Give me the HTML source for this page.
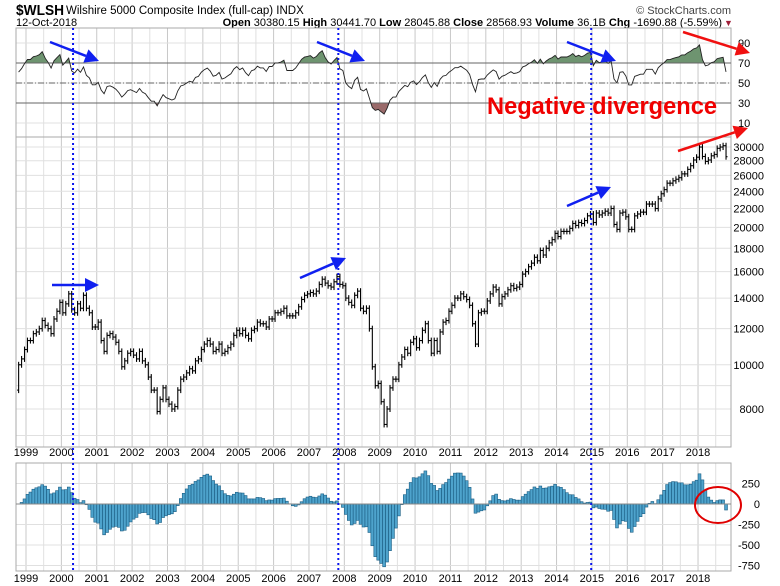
<!DOCTYPE html>
<html><head><meta charset="utf-8">
<style>
body{margin:0;background:#fff;}
svg{display:block;font-family:"Liberation Sans",sans-serif;}
</style></head>
<body>
<svg id="chart" width="780" height="586" viewBox="0 0 780 586" xmlns="http://www.w3.org/2000/svg">
  <text x="16" y="15" font-size="15" font-weight="bold" textLength="48" lengthAdjust="spacingAndGlyphs">$WLSH</text>
  <text x="66" y="14" font-size="11.5">Wilshire 5000 Composite Index (full-cap) INDX</text>
  <text x="731" y="14" font-size="11" text-anchor="end" fill="#444">© StockCharts.com</text>
  <text x="16" y="26" font-size="11">12-Oct-2018</text>
  <text x="722" y="26" font-size="11" text-anchor="end"><tspan font-weight="bold">Open</tspan> 30380.15 <tspan font-weight="bold">High</tspan> 30441.70 <tspan font-weight="bold">Low</tspan> 28045.88 <tspan font-weight="bold">Close</tspan> 28568.93 <tspan font-weight="bold">Volume</tspan> 36.1B <tspan font-weight="bold">Chg</tspan> -1690.88 (-5.59%)</text>
  <text x="724" y="26" font-size="9" fill="#a0203a">▼</text>
  <g id="grid"></g>
  <g id="marks"></g>
  <g id="annot"></g>
</svg>
<script>
// ---- data: monthly closes, Oct 1998 .. Oct 2018 ----
const startYear = 1998, startMonth = 9; // October (0-based)
const closes1998 = [10000,10300,10800];
const closes1999 = [11300,11300,11700,11800,12000,12500,12200,12000,11700,12600,13100,13700];
const closes2000 = [13000,13600,14300,13200,13000,13600,13300,14200,13300,13000,12100,12100];
const closes2001 = [12400,11300,10700,11600,11700,11500,11200,10700,9900,10200,10600,10700];
const closes2002 = [10500,10300,10700,10200,10000,9400,8800,8800,7900,8400,8900,8400];
const closes2003 = [8200,8000,8100,8800,9300,9400,9600,9800,9700,10200,10300,10800];
const closes2004 = [11100,11300,11100,10700,10800,11100,10600,10700,10900,11100,11600,11900];
const closes2005 = [11700,11900,11600,11400,11900,12000,12400,12300,12300,12100,12600,12600];
const closes2006 = [13000,13000,13100,13300,12800,12800,12800,13000,13400,13900,14200,14300];
const closes2007 = [14400,14300,14500,15000,15400,15100,14900,14800,15200,15600,15000,14900];
const closes2008 = [14000,13700,13500,14200,14500,13300,13100,13300,12000,9900,9000,9100];
const closes2009 = [8300,7400,8000,8900,9300,9300,10000,10400,10800,10600,11200,11400];
const closes2010 = [10900,11300,11900,12300,11300,10600,11300,10700,11800,12400,12500,13100];
const closes2011 = [13500,14000,14000,14300,14100,13900,13500,12300,11100,13000,13100,13100];
const closes2012 = [13800,14300,14800,14600,13600,14100,14300,14600,14900,14700,14800,15000];
const closes2013 = [15800,16000,16400,16700,17200,16900,17800,17400,18000,18500,18800,19400];
const closes2014 = [19100,19600,19600,19600,19900,20400,20200,20500,20400,20700,21200,21400];
const closes2015 = [20500,21500,21300,21500,21700,21500,22000,20300,19800,21500,21600,21100];
const closes2016 = [19800,19800,21200,21400,21600,21600,22500,22500,22500,22000,23100,23700];
const closes2017 = [24200,25000,25000,25300,25500,25700,26200,26200,26800,27300,28100,28500];
const closes2018 = [30000,28600,27900,28100,28700,28900,29800,30000,30200,28569];
const priceTicks = [30000,28000,26000,24000,22000,20000,18000,16000,14000,12000,10000,8000];
const rsiTicks = [90,70,50,30,10];
const macdTicks = [250,0,-250,-500,-750];
const yearLabels = [1999,2000,2001,2002,2003,2004,2005,2006,2007,2008,2009,2010,2011,2012,2013,2014,2015,2016,2017,2018];
const markerDates = [2000.33,2007.83,2014.98];
const rsiSeedGain = 140, rsiSeedLoss = 90;

const closes = [].concat(closes1998,closes1999,closes2000,closes2001,closes2002,closes2003,closes2004,closes2005,closes2006,closes2007,closes2008,closes2009,closes2010,closes2011,closes2012,closes2013,closes2014,closes2015,closes2016,closes2017,closes2018);

const NS="http://www.w3.org/2000/svg";
function mk(tag,attrs,parent){const e=document.createElementNS(NS,tag);for(const k in attrs)e.setAttribute(k,attrs[k]);parent.appendChild(e);return e;}
const grid=document.getElementById('grid'), marks=document.getElementById('marks'), annot=document.getElementById('annot');

const L=16,R=731;
const xYear=y=>26+35.37*(y-1999);
const xIdx=i=>xYear(startYear+(startMonth+0.5)/12+i/12);
const yPrice=p=>409-198.2*Math.log(p/8000);
const yRsi=v=>83-(v-50);
const yMacd=v=>504-v*20.5/250;
const P={rsiTop:28,rsiBot:137,mainTop:137,mainBot:447,macdTop:463,macdBot:571};

for(let y=1999;y<=2018.5;y+=0.5){
  const x=xYear(y); if(x<L||x>R) continue;
  const col=(y%1===0)?'#c8c8c8':'#e0e0e0';
  [[P.rsiTop,P.rsiBot],[P.mainTop,P.mainBot],[P.macdTop,P.macdBot]].forEach(r=>{
    const ln=mk('line',{x1:x,x2:x,y1:r[0],y2:r[1],stroke:col,'stroke-width':1},grid);
    
    
  });
}
rsiTicks.forEach(v=>{
  const y=yRsi(v);
  const ln=mk('line',{x1:L,x2:R,y1:y,y2:y,stroke:'#e0e0e0'},grid);
  
  
  const t=mk('text',{x:738,y:y+4,'font-size':11},grid); t.textContent=v;
  
  
});
[...priceTicks,9000,7000].forEach(v=>{
  const y=yPrice(v); if(y<P.mainTop||y>P.mainBot) return;
  const ln=mk('line',{x1:L,x2:R,y1:y,y2:y,stroke:'#e0e0e0'},grid);
  
  
});
priceTicks.forEach(v=>{
  const t=mk('text',{x:764,y:yPrice(v)+4,'font-size':11,'text-anchor':'end'},grid); t.textContent=v;
  
  
});
macdTicks.forEach(v=>{
  const y=yMacd(v);
  const ln=mk('line',{x1:L,x2:R,y1:y,y2:y,stroke:'#e0e0e0'},grid);
  
  
  const t=mk('text',{x:760,y:y+4,'font-size':11,'text-anchor':'end'},grid); t.textContent=v;
  
  
});
[[P.rsiTop,P.rsiBot,'rsi-panel'],[P.mainTop,P.mainBot,'price-panel'],[P.macdTop,P.macdBot,'macd-panel']].forEach(r=>{
  const b=mk('rect',{x:L,y:r[0],width:R-L,height:r[1]-r[0],fill:'none',stroke:'#aaa'},grid);
  
  
});
yearLabels.forEach(yr=>{
  [456,582].forEach(yy=>{
    const t=mk('text',{x:xYear(yr),y:yy,'font-size':11,'text-anchor':'middle'},grid); t.textContent=yr;
    
    
  });
});

// RSI (14, Wilder)
const rsi=[]; let ag=rsiSeedGain,al=rsiSeedLoss;
for(let i=0;i<closes.length;i++){
  if(i>0){
    const d=closes[i]-closes[i-1], g=Math.max(d,0), l=Math.max(-d,0);
    ag=(ag*13+g)/14; al=(al*13+l)/14;
  }
  rsi.push(al===0?100:100-100/(1+ag/al));
}
const defs=mk('defs',{},marks);
const c1=mk('clipPath',{id:'above70'},defs); mk('rect',{x:L,y:P.rsiTop,width:R-L,height:yRsi(70)-P.rsiTop},c1);
const c2=mk('clipPath',{id:'below30'},defs); mk('rect',{x:L,y:yRsi(30),width:R-L,height:P.rsiBot-yRsi(30)},c2);
const pts=rsi.map((v,i)=>xIdx(i).toFixed(1)+','+yRsi(v).toFixed(1));
const poly70=pts.join(' ')+` ${xIdx(rsi.length-1)},${yRsi(70)} ${xIdx(0)},${yRsi(70)}`;
const f1=mk('polygon',{points:poly70,fill:'#6e9470',stroke:'none','clip-path':'url(#above70)'},marks);


const poly30=pts.join(' ')+` ${xIdx(rsi.length-1)},${yRsi(30)} ${xIdx(0)},${yRsi(30)}`;
const f2=mk('polygon',{points:poly30,fill:'#9a6a6a',stroke:'none','clip-path':'url(#below30)'},marks);


[[70,'rsi-70-line','none'],[30,'rsi-30-line','none'],[50,'rsi-50-line','6,2,1,2']].forEach(a=>{
  const ln=mk('line',{x1:L,x2:R,y1:yRsi(a[0]),y2:yRsi(a[0]),stroke:'#666','stroke-width':1,'stroke-dasharray':a[2]},marks);
  
  
});
const rl=mk('polyline',{points:pts.join(' '),fill:'none',stroke:'#222','stroke-width':0.9},marks);



// price OHLC bars
for(let i=0;i<closes.length;i++){
  const c=closes[i], o=i?closes[i-1]:closes[i]*0.88;
  const hi=Math.max(o,c)*1.015, lo=Math.min(o,c)*0.985;
  const x=xIdx(i);
  const g=mk('g',{stroke:'#000','stroke-width':1.1},marks);
  
  
  mk('line',{x1:x,x2:x,y1:yPrice(hi),y2:yPrice(lo)},g);
  mk('line',{x1:x-1.5,x2:x,y1:yPrice(o),y2:yPrice(o)},g);
  mk('line',{x1:x,x2:x+1.5,y1:yPrice(c),y2:yPrice(c)},g);
}

// MACD histogram (12,26,9)
let e12=closes[0],e26=closes[0],sig=0; const hist=[];
closes.forEach((c,i)=>{
  e12=e12+(c-e12)*2/13; e26=e26+(c-e26)*2/27;
  const m=e12-e26; sig=sig+(m-sig)*2/10; hist.push(m-sig);
});
hist.forEach((v,i)=>{
  const x=xIdx(i), y0=yMacd(0), y1=yMacd(v);
  const r=mk('rect',{x:x-1.45,y:Math.min(y0,y1),width:2.9,height:Math.abs(y1-y0),fill:'#4ea3cc',stroke:'#1b5e84','stroke-width':0.6},marks);
  
  
});
const zl=mk('line',{x1:L,x2:R,y1:yMacd(0),y2:yMacd(0),stroke:'#888'},marks);



markerDates.forEach(d=>{
  const ln=mk('line',{x1:xYear(d),x2:xYear(d),y1:P.rsiTop,y2:P.macdBot,stroke:'#0a14f0','stroke-width':2,'stroke-dasharray':'2,3'},annot);
  
  
});
function arrow(x1,y1,x2,y2,col,name){
  const g=mk('g',{},annot);
  
  
  const a=Math.atan2(y2-y1,x2-x1), L2=14, W=7;
  const bx=x2-L2*Math.cos(a), by=y2-L2*Math.sin(a);
  mk('line',{x1:x1,y1:y1,x2:bx,y2:by,stroke:col,'stroke-width':2.5},g);
  mk('polygon',{points:`${x2},${y2} ${bx-W*Math.sin(a)},${by+W*Math.cos(a)} ${bx+W*Math.sin(a)},${by-W*Math.cos(a)}`,fill:col},g);
}
arrow(50,42,99,61,'#1020f0','rsi-arrow-2000');
arrow(317,42,365,61,'#1020f0','rsi-arrow-2007');
arrow(567,42,616,61,'#1020f0','rsi-arrow-2015');
arrow(683,32,750,53,'#f01010','rsi-red-arrow');
arrow(52,285,99,285,'#1020f0','price-arrow-2000');
arrow(300,278,346,258,'#1020f0','price-arrow-2007');
arrow(567,206,611,187,'#1020f0','price-arrow-2015');
arrow(678,151,748,128,'#f01010','price-red-arrow');
const nd=mk('text',{x:487,y:114,'font-size':24,'font-weight':'bold',fill:'#f00000',textLength:230,lengthAdjust:'spacingAndGlyphs'},annot);
nd.textContent='Negative divergence';


const ci=mk('ellipse',{cx:718,cy:505,rx:23,ry:18,fill:'none',stroke:'#e00000','stroke-width':2},annot);


</script>
</body></html>
